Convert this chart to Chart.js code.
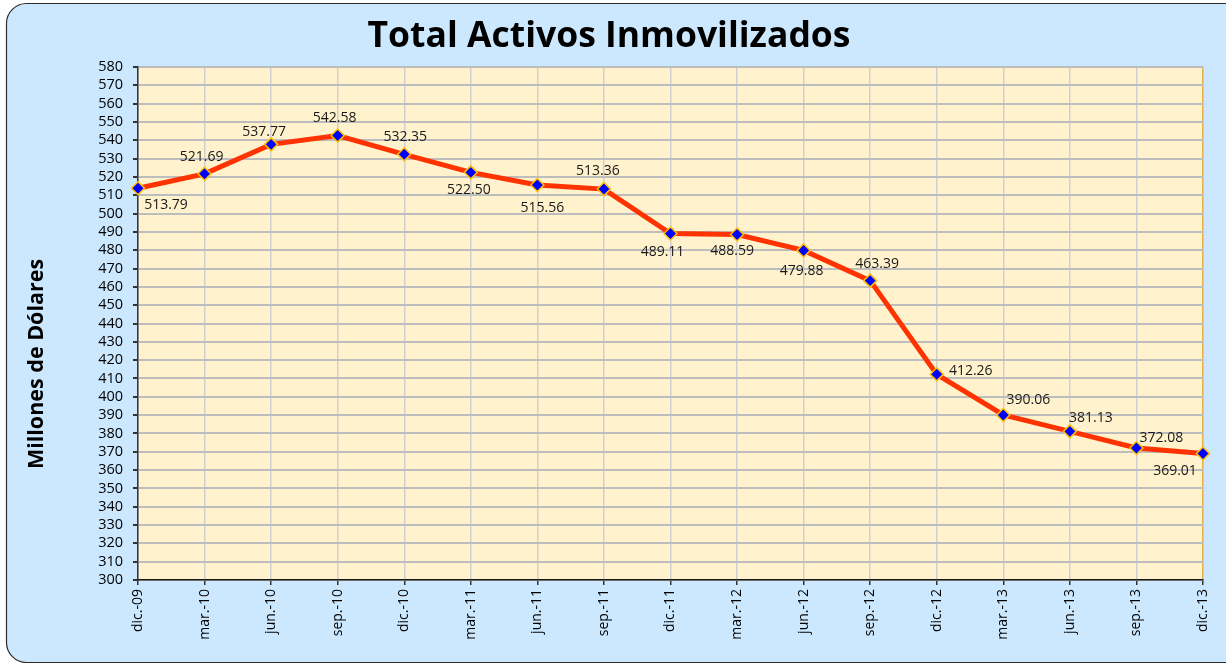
<!DOCTYPE html>
<html>
<head>
<meta charset="utf-8">
<script src="https://cdn.jsdelivr.net/npm/chart.js@4.4.1/dist/chart.umd.min.js"></script>
<style>
  html,body{margin:0;padding:0;background:#fff;}
  #c{display:block;}
</style>
</head>
<body>
<canvas id="c" width="1226" height="667"></canvas>
<script>
// datos
const periodos=["dic.-09","mar.-10","jun.-10","sep.-10","dic.-10","mar.-11","jun.-11","sep.-11","dic.-11","mar.-12","jun.-12","sep.-12","dic.-12","mar.-13","jun.-13","sep.-13","dic.-13"];
const activos=[513.79,521.69,537.77,542.58,532.35,522.50,515.56,513.36,489.11,488.59,479.88,463.39,412.26,390.06,381.13,372.08,369.01];
const titulo="Total Activos Inmovilizados";
const tituloEje="Millones de Dólares";

// desplazamiento de cada etiqueta respecto a su punto (solo estilo)
const desplX=[28,-3,-7,-3,1,-2,5,-6,-8,-5,-2,7,34,25,21,25,-28];
const desplY=[17,-17,-12,-18,-17,18,23,-18,18,17,21,-17,-3,-15,-13,-10,17];

const fuente="'Open Sans', 'Noto Sans', sans-serif";

const fondo={
    id:"fondo",
    beforeDraw(chart){
        const ctx=chart.ctx;
        ctx.save();
        ctx.fillStyle="#fff";
        ctx.fillRect(0,0,chart.width,chart.height);
        // marco redondeado
        ctx.beginPath();
        ctx.roundRect(6.5,3.5,1250,659,20);
        ctx.fillStyle="#CCE8FF";
        ctx.fill();
        ctx.lineWidth=1.2;
        ctx.strokeStyle="#2b2b2b";
        ctx.stroke();
        const a=chart.chartArea;
        ctx.fillStyle="#FFF2CC";
        ctx.fillRect(a.left,a.top,a.right-a.left,a.bottom-a.top);
        ctx.restore();
    },
    afterDraw(chart){
        const ctx=chart.ctx;
        ctx.save();
        ctx.fillStyle="#000";
        ctx.font="bold 35.5px "+fuente;
        ctx.textAlign="center";
        ctx.textBaseline="middle";
        ctx.fillText(titulo,609,37);
        ctx.translate(37,364);
        ctx.rotate(-Math.PI/2);
        ctx.font="bold 21.5px "+fuente;
        ctx.fillText(tituloEje,0,0);
        ctx.restore();
    }
};

const etiquetas={
    id:"etiquetas",
    afterDatasetsDraw(chart){
        const ctx=chart.ctx;
        const meta=chart.getDatasetMeta(0);
        ctx.save();
        ctx.font="14px "+fuente;
        ctx.fillStyle="#1a1a1a";
        ctx.textAlign="center";
        ctx.textBaseline="middle";
        meta.data.forEach((p,i)=>{
            ctx.fillText(activos[i].toFixed(2),p.x+desplX[i],p.y+desplY[i]);
        });
        ctx.restore();
    }
};

new Chart(document.getElementById("c"),{
    type:"line",
    data:{
        labels:periodos,
        datasets:[{
            data:activos,
            borderColor:"#FF3300",
            borderWidth:5,
            tension:0,
            pointStyle:"rectRot",
            pointRadius:6.5,
            pointBackgroundColor:"#0000FF",
            pointBorderColor:"#FFC000",
            pointBorderWidth:1.5
        }]
    },
    options:{
        responsive:false,
        animation:false,
        devicePixelRatio:1,
        layout:{padding:{top:67,left:0,right:23,bottom:0}},
        plugins:{legend:{display:false},tooltip:{enabled:false},title:{display:false}},
        scales:{
            x:{
                offset:false,
                afterFit(s){s.height=87;},
                ticks:{
                    minRotation:90,maxRotation:90,autoSkip:false,
                    color:"#000",font:{family:fuente,size:14},padding:4
                },
                grid:{
                    color:(c)=>c.index===periodos.length-1?"#E3B04B":"#CFCFCF",
                    lineWidth:1.5,
                    tickLength:5,
                    tickColor:"#333"
                },
                border:{color:"#1a1a1a",width:1.5}
            },
            y:{
                min:300,max:580,
                afterFit(s){s.width=138;},
                ticks:{stepSize:10,autoSkip:false,color:"#000",font:{family:fuente,size:14.5},padding:10},
                grid:{color:"#BDBDBD",lineWidth:2,tickLength:5,tickColor:"#333"},
                border:{color:"#333",width:1.5}
            }
        }
    },
    plugins:[fondo,etiquetas]
});
</script>
</body>
</html>
